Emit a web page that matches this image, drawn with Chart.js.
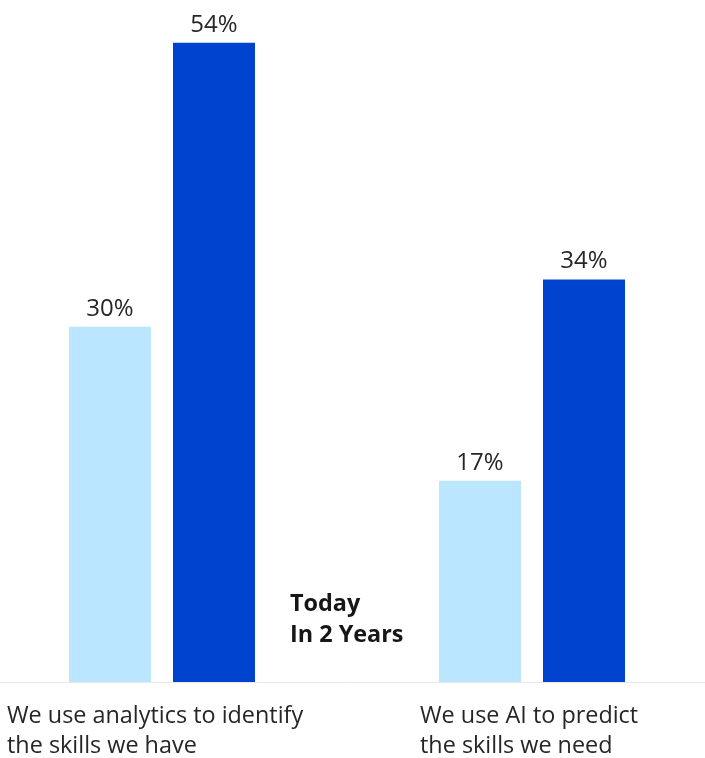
<!DOCTYPE html>
<html>
<head>
<meta charset="utf-8">
<style>
  html, body { margin: 0; padding: 0; background: #ffffff; overflow: hidden; }
  #wrap { position: relative; width: 705px; height: 758px; overflow: hidden; }
  #chart { position: absolute; left: -23px; top: 0; }
</style>
<script src="https://cdn.jsdelivr.net/npm/chart.js@4"></script>
</head>
<body>
<div id="wrap"><canvas id="chart" width="740" height="758"></canvas></div>
<script>
// Survey statements and share of respondents (%)
const categories = [
  ["We use analytics to identify", "the skills we have"],
  ["We use AI to predict", "the skills we need"]
];
const seriesNames = ["Today", "In 2 Years"];
const todayValues = [30, 17];
const inTwoYearsValues = [54, 34];

const colors = ["#bae6ff", "#0043ce"];
const FONT = "'Open Sans', Roboto, sans-serif";

// Percentage labels above each bar
const valueLabels = {
  id: "valueLabels",
  afterDatasetsDraw(chart) {
    const ctx = chart.ctx;
    ctx.save();
    ctx.font = "24px " + FONT;
    ctx.fillStyle = "#262626";
    ctx.textAlign = "center";
    ctx.textBaseline = "alphabetic";
    chart.data.datasets.forEach((ds, di) => {
      chart.getDatasetMeta(di).data.forEach((bar, i) => {
        ctx.fillText(ds.data[i] + "%", bar.x, bar.y - 11);
      });
    });
    ctx.restore();
  }
};

// Series names stacked in the middle of the plot
const seriesNamesBlock = {
  id: "seriesNamesBlock",
  afterDraw(chart) {
    const ctx = chart.ctx;
    const xs = chart.scales.x;
    const mid = (xs.getPixelForValue(0) + xs.getPixelForValue(1)) / 2;
    ctx.save();
    ctx.font = "bold 23.4px " + FONT;
    ctx.fillStyle = "#161616";
    ctx.textAlign = "left";
    ctx.textBaseline = "alphabetic";
    chart.data.datasets.forEach((ds, di) => {
      ctx.fillText(ds.label, mid - 57, 611 + di * 31);
    });
    ctx.restore();
  }
};

// Category captions under the baseline, left aligned
const captionShift = [-155, -112];
const categoryCaptions = {
  id: "categoryCaptions",
  afterDraw(chart) {
    const ctx = chart.ctx;
    const xs = chart.scales.x;
    ctx.save();
    ctx.font = "23.4px " + FONT;
    ctx.fillStyle = "#262626";
    ctx.textAlign = "left";
    ctx.textBaseline = "alphabetic";
    chart.data.labels.forEach((lines, i) => {
      const x = xs.getPixelForValue(i) + captionShift[i];
      lines.forEach((line, k) => {
        ctx.fillText(line, x, chart.chartArea.bottom + 41 + k * 30);
      });
    });
    ctx.restore();
  }
};

new Chart(document.getElementById("chart"), {
  type: "bar",
  data: {
    labels: categories,
    datasets: [
      { label: seriesNames[0], data: todayValues, backgroundColor: colors[0] },
      { label: seriesNames[1], data: inTwoYearsValues, backgroundColor: colors[1] }
    ]
  },
  options: {
    responsive: false,
    animation: false,
    layout: { padding: { top: 0, bottom: 76, left: 0, right: 0 } },
    datasets: {
      bar: { categoryPercentage: 208 / 370, barPercentage: 82 / 104, borderWidth: 0 }
    },
    plugins: {
      legend: { display: false },
      tooltip: { enabled: false }
    },
    scales: {
      x: {
        grid: { display: false, drawTicks: false },
        border: { display: true, color: "#e8e8e8", width: 1 },
        ticks: { display: false },
        afterFit(scale) { scale.height = 0; }
      },
      y: {
        display: false,
        min: 0,
        max: 57.6
      }
    }
  },
  plugins: [valueLabels, seriesNamesBlock, categoryCaptions]
});
</script>
</body>
</html>
